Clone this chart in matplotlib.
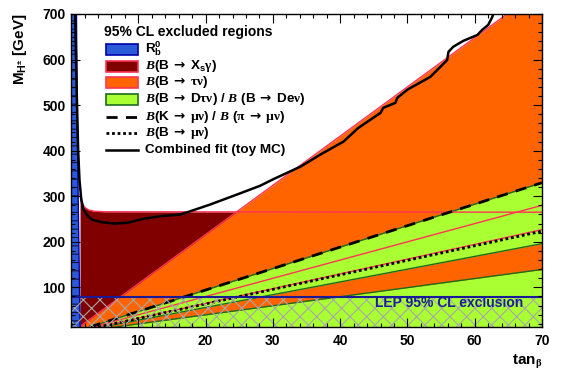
import matplotlib
matplotlib.use("Agg")
import matplotlib.pyplot as plt
import numpy as np
from matplotlib.patches import Rectangle
from matplotlib.lines import Line2D

plt.rcParams['font.family'] = ['Liberation Sans', 'DejaVu Sans']
plt.rcParams['font.weight'] = 'bold'
plt.rcParams['mathtext.fontset'] = 'custom'
plt.rcParams['mathtext.rm'] = 'Liberation Sans:bold'
plt.rcParams['mathtext.bf'] = 'Liberation Sans:bold'
plt.rcParams['mathtext.sf'] = 'Liberation Serif'
plt.rcParams['mathtext.tt'] = 'DejaVu Sans'
plt.rcParams['mathtext.cal'] = 'Liberation Serif:italic'
plt.rcParams['mathtext.default'] = 'rm'
plt.rcParams['hatch.linewidth'] = 0.8

# --- data ---
# R_b^0: excluded left of this boundary
rb_mh = [12, 100, 300, 500, 700]
rb_tanb = [1.35, 1.25, 1.05, 0.9, 0.8]

# B -> Xs gamma: excluded below this curve
xsg_tanb = [1.33, 1.5, 2.0, 2.6, 3.5, 5.0, 70.0]
xsg_mh = [304, 290, 276, 270, 267, 266, 265]

# B -> tau nu: excluded below M = slope * tanb, except a narrow band
tau_upper_slope = 10.8
tau_band_slopes = [4.0, 3.24]

# B -> D tau nu / B -> D e nu: green bands (slopes of M_H / tanb)
dtau_band1 = (2.8, 4.71)
dtau_band2 = 1.99

# K -> mu nu / pi -> mu nu and B -> mu nu lines
kmu_slope = 4.71
bmu_slope = 3.19

# LEP limit
lep_mh = 79.3

# combined fit (toy MC)
fit_tanb = [0.6, 0.85, 1.05, 1.25, 1.5, 1.8, 2.3, 3.06, 4.55, 6.5, 8.5, 9.8, 11.0,
            13.2, 16.2, 17.3, 20.7, 24.7, 28.1, 30.0, 34.1, 37.0, 40.5, 42.7, 46.0,
            46.4, 48.2, 48.5, 50.0, 53.4, 54.9, 55.9, 56.1, 56.8, 58.3, 60.4, 61.1,
            62.0, 62.6, 62.8]
fit_mh = [700, 520, 400, 335, 295, 272, 260, 249, 243, 240, 242, 247, 251,
          256, 260, 265, 282, 304, 323, 337, 365, 391, 420, 450, 483,
          494, 505, 516, 534, 562, 584, 599, 617, 628, 641, 654, 665,
          676, 693, 702]

# colours
c_blue = '#2a5ad8'
c_dred = '#800000'
c_orange = '#ff6400'
c_green = '#aaff33'
c_pink = '#ff3355'
c_dgreen = '#1e6b1e'

fig = plt.figure(figsize=(5.62, 3.80), dpi=100)
ax = fig.add_axes([0.1265, 0.1382, 0.8379, 0.825])
ax.set_xlim(0, 70)
ax.set_ylim(12, 700)

tt = np.array([0.0, 70.0])

# B -> Xs gamma (dark red) under orange
ax.fill_between(xsg_tanb, 0, xsg_mh, color=c_dred, lw=0, zorder=1)

# B -> tau nu (orange)
ax.fill_between(tt, 0, tau_upper_slope * tt, color=c_orange, lw=0, zorder=2)
ax.plot(tt, tau_upper_slope * tt, color=c_pink, lw=1.0, zorder=2.5)

# B -> D tau nu (green)
ax.fill_between(tt, dtau_band1[0] * tt, dtau_band1[1] * tt, color=c_green, lw=0, zorder=3)
ax.fill_between(tt, 0, dtau_band2 * tt, color=c_green, lw=0, zorder=3)
for s in [dtau_band1[0], dtau_band1[1], dtau_band2]:
    ax.plot(tt, s * tt, color=c_dgreen, lw=1.0, zorder=3.5)

# edges of the tau nu allowed band and the Xs gamma limit
for s in tau_band_slopes:
    ax.plot(tt, s * tt, color=c_pink, lw=1.0, zorder=4)
ax.plot(xsg_tanb, xsg_mh, color=c_pink, lw=1.0, zorder=4)

# R_b (blue)
ax.fill_betweenx(rb_mh, 0, rb_tanb, facecolor=c_blue, edgecolor='#101040',
                 hatch='--', lw=0, zorder=5)
ax.plot(rb_tanb, rb_mh, color='#0000aa', lw=1.0, zorder=5)

# K mu nu and B mu nu
ax.plot(tt, kmu_slope * tt, color='black', lw=2.0, ls=(0, (4, 3)), zorder=6)
ax.plot(tt, bmu_slope * tt, color='black', lw=2.0, ls=(0, (1, 1)), zorder=6)

# combined fit
ax.plot(fit_tanb, fit_mh, color='black', lw=1.8, zorder=7)

# LEP exclusion
ax.fill_between(tt, 0, lep_mh, facecolor='none', edgecolor='#a8a8a8', hatch='xx',
                lw=0, zorder=8)
ax.axhline(lep_mh, color='#1a1a99', lw=1.5, zorder=8)
ax.text(67.2, 65, 'LEP 95% CL exclusion', ha='right', va='center',
        color='#1c1c9c', fontsize=10, weight='bold', zorder=9)

# axes style
ax.set_xticks(range(10, 71, 10))
ax.set_yticks(range(100, 701, 100))
ax.set_xticks(np.arange(0, 71, 2), minor=True)
ax.set_yticks(np.arange(20, 701, 20), minor=True)
ax.tick_params(which='both', direction='in', top=True, right=True, width=0.8,
               labelsize=10)
ax.tick_params(which='major', length=6.5)
ax.tick_params(which='minor', length=3.2)
ax.tick_params(axis='x', pad=5)
ax.tick_params(axis='y', pad=4)
ax.xaxis.set_zorder(10)
ax.yaxis.set_zorder(10)
for lab in ax.get_xticklabels() + ax.get_yticklabels():
    lab.set_fontweight('bold')
for sp in ax.spines.values():
    sp.set_linewidth(1.0)
    sp.set_zorder(10)

fig.text(542 / 562, 1 - 353 / 380, r'tan$_\mathsf{\beta}$',
         ha='right', va='top', fontsize=11, weight='bold')
fig.text(20 / 562, 1 - 13 / 380, r'M$_{\mathrm{H^{\pm}}}$ [GeV]', rotation=90,
         ha='center', va='top', fontsize=11, weight='bold')

# legend drawn by hand in figure pixels
def fx(px):
    return px / 562.0

def fy(py):
    return 1 - py / 380.0

fig.text(fx(104), fy(32), '95% CL excluded regions', ha='left', va='center',
         fontsize=10, weight='bold', zorder=20)
arr = r'\,\mathtt{\rightarrow}\,'
labels = [
    r'R$_\mathrm{b}^\mathrm{0}$',
    r'$\mathcal{B}$(B$' + arr + r'$X$_\mathrm{s}\mathsf{\gamma}$)',
    r'$\mathcal{B}$(B$' + arr + r'\mathsf{\tau\nu}$)',
    r'$\mathcal{B}$(B$' + arr + r'$D$\mathsf{\tau\nu}$) / $\mathcal{B}$ (B$' + arr + r'$De$\mathsf{\nu}$)',
    r'$\mathcal{B}$(K$' + arr + r'\mathsf{\mu\nu}$) / $\mathcal{B}$ ($\mathsf{\pi}' + arr + r'\mathsf{\mu\nu}$)',
    r'$\mathcal{B}$(B$' + arr + r'\mathsf{\mu\nu}$)',
    'Combined fit (toy MC)',
]
rows = [49, 66, 82, 99, 117, 133, 150]
patches = [(c_blue, '#0000aa'), (c_dred, c_pink), (c_orange, c_pink), (c_green, c_dgreen)]
for i, (lab, py) in enumerate(zip(labels, rows)):
    if i < 4:
        fc, ec = patches[i]
        fig.add_artist(Rectangle((fx(106), fy(py + 5.5)), fx(32), 11 / 380.0,
                                 facecolor=fc, edgecolor=ec, lw=1.2,
                                 transform=fig.transFigure, zorder=20))
    else:
        ls = [(0, (4, 3)), (0, (1, 1)), '-'][i - 4]
        fig.add_artist(Line2D([fx(106), fx(138)], [fy(py), fy(py)], color='black',
                              lw=2.0 if i < 6 else 1.8, ls=ls,
                              transform=fig.transFigure, zorder=20))
    fig.text(fx(145), fy(py), lab, ha='left', va='center', fontsize=9.7,
             weight='bold', zorder=20)

fig.savefig('out.png', dpi=100)
